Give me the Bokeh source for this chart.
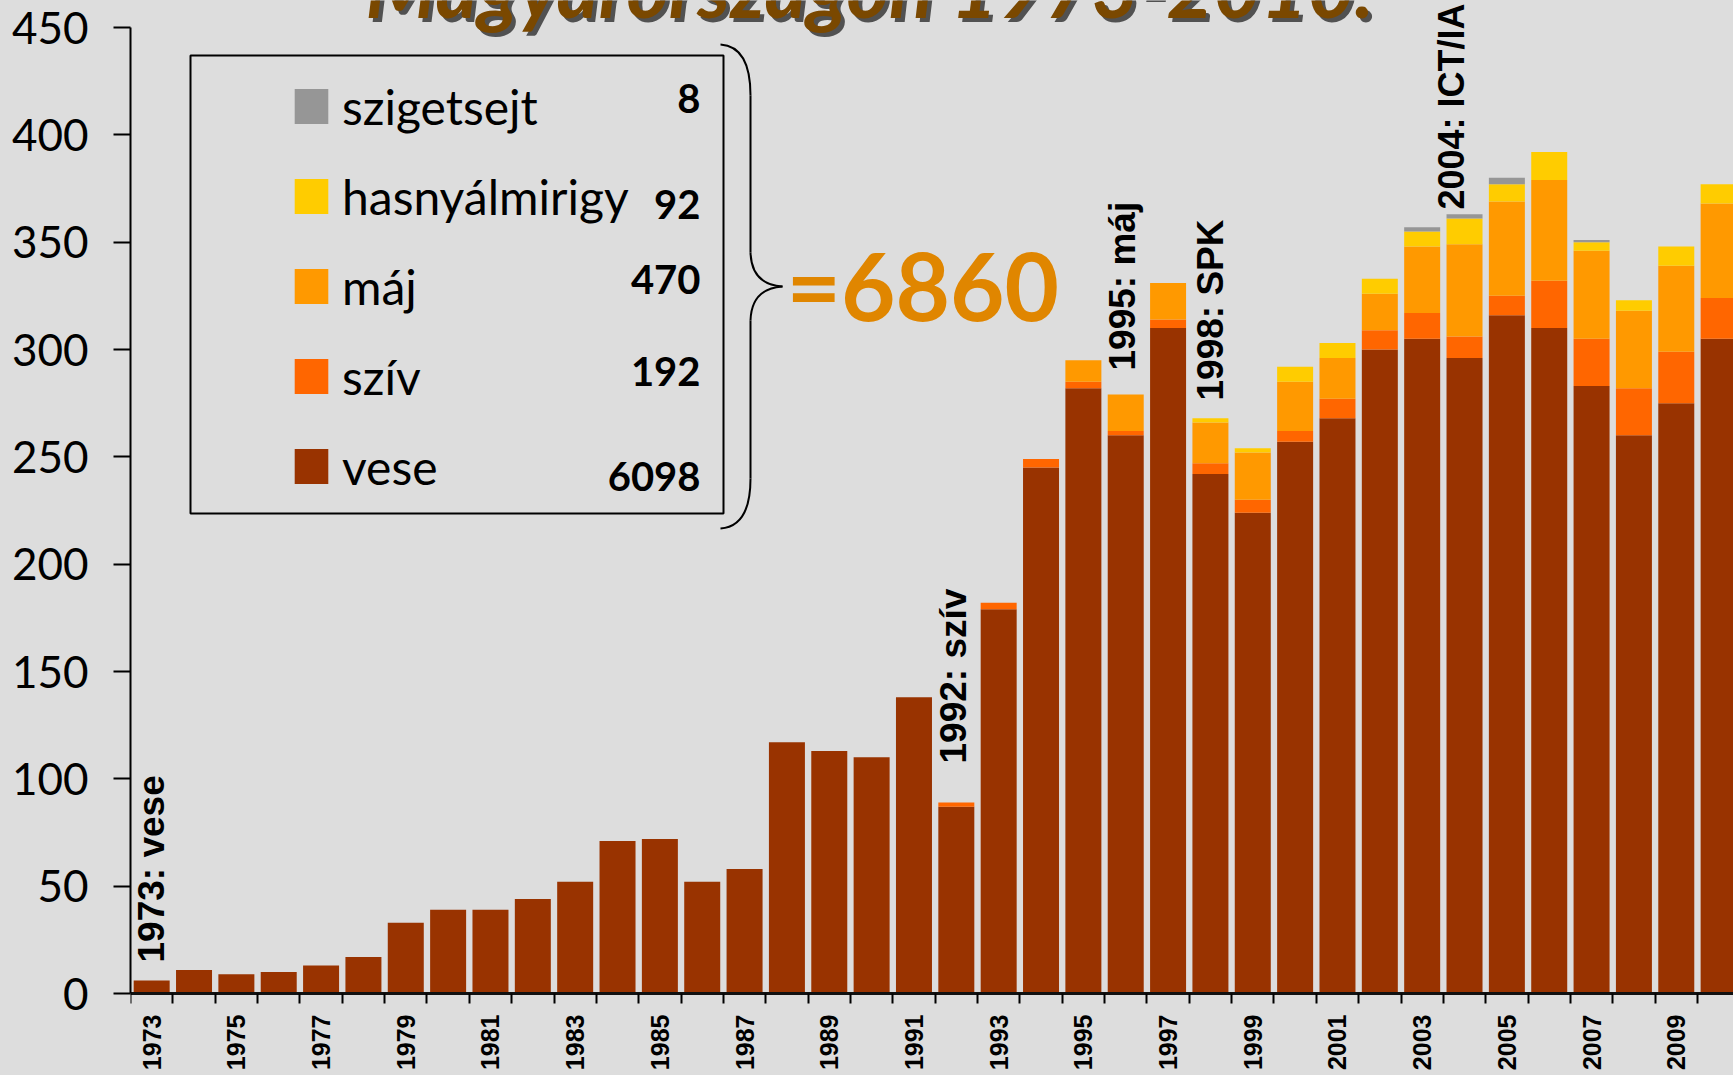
import math
from bokeh.plotting import figure
from bokeh.models import (Range1d, FixedTicker, Legend, LegendItem, Label,
                          BoxAnnotation, ColumnDataSource)
from bokeh.embed import file_html
from bokeh.resources import INLINE

# ---------------- data ----------------
years = [1973, 1974, 1975, 1976, 1977, 1978, 1979, 1980, 1981, 1982,
         1983, 1984, 1985, 1986, 1987, 1988, 1989, 1990, 1991, 1992,
         1993, 1994, 1995, 1996, 1997, 1998, 1999, 2000, 2001, 2002,
         2003, 2004, 2005, 2006, 2007, 2008, 2009, 2010]
vese = [6, 11, 9, 10, 13, 17, 33, 39, 39, 44,
        52, 71, 72, 52, 58, 117, 113, 110, 138, 87,
        179, 245, 282, 260, 310, 242, 224, 257, 268, 300,
        305, 296, 316, 310, 283, 260, 275, 305]
sziv = [0, 0, 0, 0, 0, 0, 0, 0, 0, 0,
        0, 0, 0, 0, 0, 0, 0, 0, 0, 2,
        3, 4, 3, 2, 4, 5, 6, 5, 9, 9,
        12, 10, 9, 22, 22, 22, 24, 19]
maj = [0, 0, 0, 0, 0, 0, 0, 0, 0, 0,
       0, 0, 0, 0, 0, 0, 0, 0, 0, 0,
       0, 0, 10, 17, 17, 19, 22, 23, 19, 17,
       31, 43, 44, 47, 41, 36, 40, 44]
hasny = [0, 0, 0, 0, 0, 0, 0, 0, 0, 0,
         0, 0, 0, 0, 0, 0, 0, 0, 0, 0,
         0, 0, 0, 0, 0, 2, 2, 7, 7, 7,
         7, 12, 8, 13, 4, 5, 9, 9]
sziget = [0, 0, 0, 0, 0, 0, 0, 0, 0, 0,
          0, 0, 0, 0, 0, 0, 0, 0, 0, 0,
          0, 0, 0, 0, 0, 0, 0, 0, 0, 0,
          2, 2, 3, 0, 1, 0, 0, 0]
series_keys = ["vese", "sziv", "maj", "hasny", "sziget"]
series_labels = ["vese", "szív", "máj", "hasnyálmirigy", "szigetsejt"]
series_totals = ["6098", "192", "470", "92", "8"]
series_colors = ["#993300", "#ff6600", "#ff9900", "#ffcc00", "#969696"]
y_ticks = [0, 50, 100, 150, 200, 250, 300, 350, 400, 450]
x_label_years = years[::2]
title_text = "Magyarországon 1973-2010."
sum_text = "=6860"
events = [("1973: vese", 1973.0, 962, "37px"), ("1992: szív", 1991.93, 763, "37px"),
          ("1995: máj", 1995.92, 370, "37px"), ("1998: SPK", 1998.0, 400, "37px"),
          ("2004: ICT/IA", 2003.7, 209, "36px")]

# ---------------- layout helpers (page px -> data) ----------------
W, H = 1733, 1075
BG = "#dddddd"
CAT_W = 42.35
PX_PER_UNIT = 966 / 450
FRAME_LEFT = 130
ZERO_Y = 993


def dx(px):
    return 1972.5 + (px - FRAME_LEFT) / CAT_W


def dy(py):
    return (ZERO_Y - py) / PX_PER_UNIT


src = ColumnDataSource(dict(year=years, vese=vese, sziv=sziv, maj=maj,
                            hasny=hasny, sziget=sziget))

p = figure(width=W, height=H,
           x_range=Range1d(1972.5, dx(W)),
           y_range=Range1d(dy(H), dy(0)),
           output_backend="svg", toolbar_location=None,
           min_border_left=FRAME_LEFT, min_border_right=0,
           min_border_top=0, min_border_bottom=0)
p.title.visible = False
p.background_fill_color = BG
p.border_fill_color = BG
p.outline_line_color = None
p.xgrid.visible = False
p.ygrid.visible = False

rs = p.vbar_stack(series_keys, x="year", width=0.85, fill_color=series_colors,
                  line_color=None, source=src)

# y axis
ya = p.yaxis[0]
ya.ticker = FixedTicker(ticks=y_ticks)
ya.bounds = (0, 450)
ya.axis_line_width = 2
ya.axis_line_color = "black"
ya.major_tick_out = 17
ya.major_tick_in = 0
ya.major_tick_line_width = 2
ya.minor_tick_out = 0
ya.minor_tick_in = 0
ya.major_label_standoff = 25
ya.major_label_text_font = "Lato"
ya.major_label_text_font_size = "44px"
ya.major_label_text_color = "black"

# x axis
xa = p.xaxis[0]
xa.fixed_location = 0
xa.ticker = FixedTicker(ticks=x_label_years,
                        minor_ticks=[y - 0.5 for y in years] + [years[-1] + 0.5])
xa.axis_line_width = 3
xa.axis_line_color = "#111111"
xa.major_tick_out = 0
xa.major_tick_in = 0
xa.minor_tick_out = 10
xa.minor_tick_in = 0
xa.minor_tick_line_color = "black"
xa.minor_tick_line_width = 2
xa.major_label_orientation = math.pi / 2
xa.major_label_standoff = 11
xa.major_label_text_font = "Liberation Sans"
xa.major_label_text_font_style = "bold"
xa.major_label_text_font_size = "25px"
xa.major_label_text_color = "black"

# legend (items top -> bottom); glyph box has a 10% inset
items = [LegendItem(label=lab, renderers=[r])
         for lab, r in reversed(list(zip(series_labels, rs)))]
legend = Legend(items=items, location=(160, 580),
                glyph_width=42, glyph_height=44, label_height=58,
                label_standoff=10, spacing=32, padding=0, margin=0,
                border_line_alpha=0, background_fill_alpha=0,
                label_text_font="Lato", label_text_font_size="48px",
                label_text_color="black")
p.add_layout(legend)

p.add_layout(BoxAnnotation(left=dx(190), right=dx(723), top=dy(55), bottom=dy(513),
                           fill_alpha=0, line_color="black", line_alpha=1,
                           line_width=2))

# totals in legend box (vertical centres of digits)
total_centres = [476, 371, 279, 204, 98]
for t, c in zip(series_totals, total_centres):
    p.add_layout(Label(x=dx(700), y=dy(c), text=t, text_align="right",
                       text_baseline="middle", text_font="Lato",
                       text_font_style="bold", text_font_size="40px",
                       text_color="black"))

# brace
bk = dict(line_color="black", line_width=2)
p.quadratic(x0=[dx(720), dx(750), dx(782), dx(750)],
            y0=[dy(44), dy(252), dy(286), dy(478)],
            x1=[dx(750), dx(782), dx(750), dx(720)],
            y1=[dy(95), dy(286), dy(320), dy(528)],
            cx=[dx(750), dx(751), dx(751), dx(750)],
            cy=[dy(46), dy(284), dy(288), dy(526)], **bk)
p.segment(x0=[dx(750), dx(750)], y0=[dy(95), dy(320)],
          x1=[dx(750), dx(750)], y1=[dy(252), dy(478)], **bk)

p.add_layout(Label(x=dx(786), y=dy(284), text=sum_text, text_align="left",
                   text_baseline="middle", text_font="Lato",
                   text_font_style="bold", text_font_size="94px",
                   text_color="#e08600"))

# event annotations
for txt, xpos, bottom, fs in events:
    p.add_layout(Label(x=xpos, y=dy(bottom), text=txt, angle=math.pi / 2,
                       text_align="left", text_baseline="middle",
                       text_font="Liberation Sans", text_font_style="bold",
                       text_font_size=fs, text_color="black"))

# title (cut at top as in the reference)
p.add_layout(Label(x=dx(369), y=dy(-10), text=title_text, text_align="left",
                   text_baseline="middle", text_font="Lato",
                   text_font_style="bold italic", text_font_size="81px",
                   text_color="#222222", text_alpha=0.75))
p.add_layout(Label(x=dx(365), y=dy(-14), text=title_text, text_align="left",
                   text_baseline="middle", text_font="Lato",
                   text_font_style="bold italic", text_font_size="81px",
                   text_color="#7a4800"))

html = file_html(p, INLINE)
html = html.replace(
    "<head>",
    "<head><style>html,body{margin:0;padding:0;overflow:hidden;background:#dddddd;}</style>",
    1)
open("out.html", "w").write(html)
